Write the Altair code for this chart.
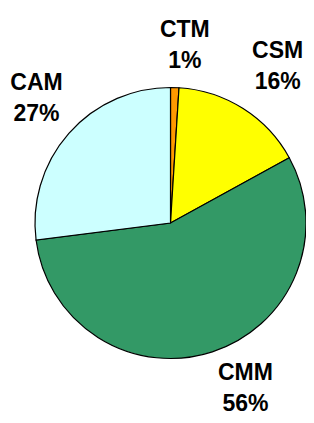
import altair as alt
import pandas as pd

categories = ["CTM", "CSM", "CMM", "CAM"]
shares = [1, 16, 56, 27]
colors = ["#FF9900", "#FFFF00", "#339966", "#CCFFFF"]

df = pd.DataFrame({
    "cat": categories,
    "share": shares,
    "order": list(range(len(categories))),
    "label": [f"{c}\n{s}%" for c, s in zip(categories, shares)],
})
total = sum(shares)

pie = alt.Chart(df).mark_arc(radius=135.5, stroke="black", strokeWidth=1.2).encode(
    theta=alt.Theta("share:Q", stack=True),
    order=alt.Order("order:Q"),
    color=alt.Color("cat:N", scale=alt.Scale(domain=categories, range=colors), legend=None),
    x=alt.value(162.5),
    y=alt.value(215),
)

label_base = alt.Chart(df).transform_window(
    cum="sum(share)", sort=[alt.SortField("order")], frame=[None, 0]
).transform_calculate(mid="datum.cum - datum.share / 2")

# small per-label nudges (Excel "outside end" style placement)
nudges = {"CTM": (5, 8), "CSM": (4, 1), "CMM": (14, -11), "CAM": (2, -1)}

layers = [pie]
for c in categories:
    ndx, ndy = nudges[c]
    layers.append(
        label_base.transform_filter(alt.datum.cat == c).mark_text(
            radius=186, font="Liberation Sans", fontWeight="bold", fontSize=23,
            lineBreak="\n", lineHeight=31, color="black", baseline="middle",
            align="center", dx=ndx, dy=ndy - 15.5,
        ).encode(
            theta=alt.Theta("mid:Q", scale=alt.Scale(domain=[0, total])),
            text="label:N",
            x=alt.value(166),
            y=alt.value(215),
        )
    )

chart = alt.layer(*layers).resolve_scale(theta="independent").properties(
    width=298, height=407, padding=0,
    autosize=alt.AutoSizeParams(type="none"),
).configure_view(stroke=None)

chart.save("out.html", embed_options={"renderer": "svg", "actions": False})
